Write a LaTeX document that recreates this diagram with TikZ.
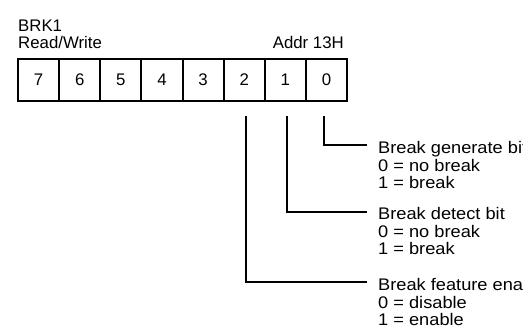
\documentclass[tikz,border=0pt]{standalone}
\usepackage{fontspec}
\setmainfont{Liberation Sans}
\begin{document}
\begin{tikzpicture}[x=1bp,y=-1bp,
  txt/.style={font=\fontsize{16.8bp}{17bp}\selectfont},
  cell/.style={draw, line width=2bp, minimum width=41.125bp, minimum height=42bp,
    inner sep=0pt, outer sep=0pt, txt},
  lbl/.style={anchor=base west, inner sep=0pt, txt},
  wire/.style={line width=2bp}]
\useasboundingbox (0,0) rectangle (523,329);
\clip (0,0) rectangle (523,329);
\fill[white] (0,0) rectangle (523,329);
% register cells
\foreach \i in {0,...,7}{
  \pgfmathtruncatemacro\bit{7-\i}
  \node[cell] (b\bit) at ({18+41.125*(\i+0.5)},80) {\bit};
}
% header labels
\node[lbl] (name) at (18,31.5) {BRK1};
\node[lbl] (rw) at (18,48.3) {Read/Write};
\node[lbl, anchor=base east] (addr) at (344,48.3) {Addr 13H};
% field descriptions
\newcommand\desc[3]{\scalebox{1.085}[1]{\vtop{\baselineskip=17.2bp\hbox{#1}\hbox{#2}\hbox{#3}}}}
\node[lbl] (d0) at (378,153.8) {\desc{Break generate bit}{0 = no break}{1 = break}};
\node[lbl] (d1) at (378,219.8) {\desc{Break detect bit}{0 = no break}{1 = break}};
\node[lbl] (d2) at (378,290.8) {\desc{Break feature enable}{0 = disable}{1 = enable}};
% connector coordinates
\coordinate (s0) at (324,116);
\coordinate (s1) at (287,116);
\coordinate (s2) at (245.5,116);
\coordinate (e0) at (367,145);
\coordinate (e1) at (367,211.5);
\coordinate (e2) at (367,282);
\draw[wire] (s0) |- (e0);
\draw[wire] (s1) |- (e1);
\draw[wire] (s2) |- (e2);
\end{tikzpicture}
\end{document}
